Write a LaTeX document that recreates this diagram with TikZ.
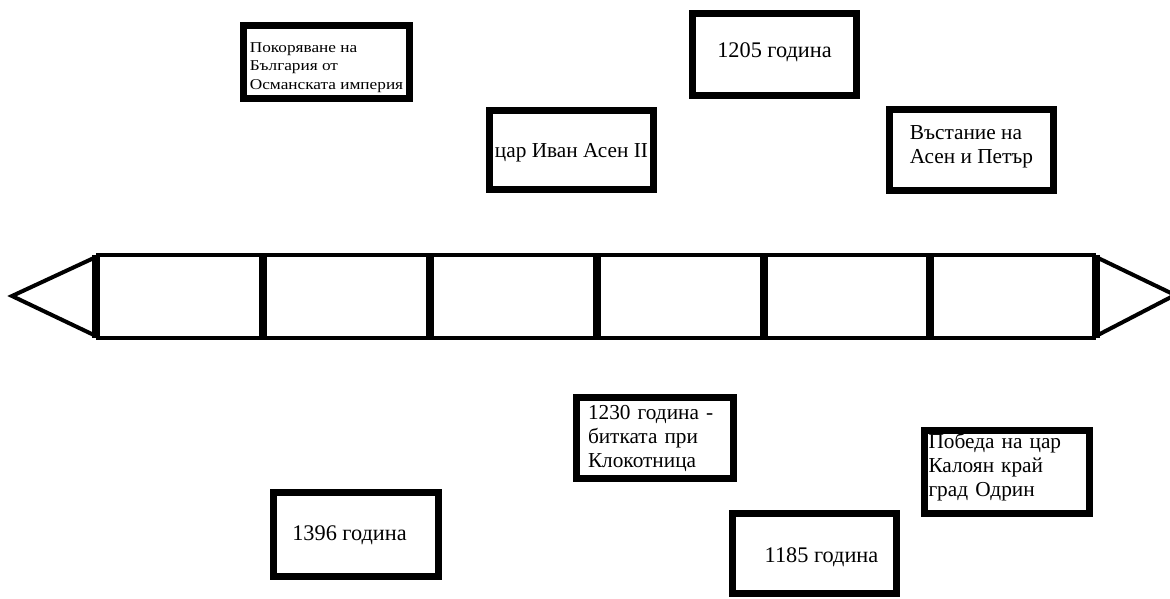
\documentclass[tikz,border=0pt]{standalone}
\usepackage{fontspec}
\setmainfont{Liberation Serif}
\newfontfamily\smallfnt[FakeStretch=1.15]{Liberation Serif}
\begin{document}
\begin{tikzpicture}[x=1pt,y=-1pt,
  frame/.style={draw, line width=7pt, inner sep=0pt},
  box/.style={frame, align=left, font=\fontsize{21.3}{24}\selectfont},
  yearbox/.style={frame, font=\fontsize{22.3}{24}\selectfont},
  linebox/.style={frame, font=\fontsize{21.3}{24}\selectfont},
  smallbox/.style={frame, align=left, font=\smallfnt\fontsize{15}{18.5}\selectfont},
  rail/.style={line width=4pt, line join=miter},
  divider/.style={line width=7.5pt}]
\useasboundingbox (0,0) rectangle (1170,598);
\fill[white] (0,0) rectangle (1170,598);
% timeline
\foreach \i/\x in {0/96,1/263,2/430,3/597,4/764,5/930,6/1096}{
  \coordinate (t\i) at (\x,255);
  \coordinate (b\i) at (\x,338);
}
\coordinate (ltip) at (12,296);
\coordinate (rtip) at (1175,295);
\draw[rail] (t0) -- (t6);
\draw[rail] (b0) -- (b6);
\foreach \i in {0,...,6}{ \draw[divider] (t\i) -- (b\i); }
\draw[rail] ([yshift=-2pt]t0) -- (ltip) -- ([yshift=2pt]b0);
\draw[rail] ([yshift=-2pt]t6) -- (rtip) -- ([yshift=2pt]b6);
% boxes
\node[smallbox, minimum width=166, minimum height=73] (a) at (326.5,62)
  {\rule{0pt}{21pt}Покоряване на\\България от\\Османската империя};
\node[yearbox, minimum width=164, minimum height=82, text height=22.5pt, text depth=17.5pt]
  (b) at (774.5,54.5) {1205 година};
\node[linebox, minimum width=164, minimum height=79, text height=27pt, text depth=13pt]
  (c) at (571.5,150) {цар Иван Асен II};
\node[box, minimum width=164, minimum height=81] (d) at (971.5,150)
  {Въстание на\\Асен и Петър\rule[-10.5pt]{0pt}{0pt}};
\node[box, minimum width=157, minimum height=81, text width=134pt, inner xsep=11.5pt]
  (e) at (655,438) {1230 година -\\битката при\\Клокотница};
\node[box, minimum width=165, minimum height=83, text width=157pt, inner xsep=4pt]
  (f) at (1007,472) {Победа на цар\\Калоян край\\град Одрин\rule[-14pt]{0pt}{0pt}};
\node[yearbox, minimum width=165, minimum height=84, text height=25.5pt, text depth=14.5pt]
  (g) at (356,534.5) {1396 година\hspace*{13pt}};
\node[yearbox, minimum width=164, minimum height=80, text height=28.5pt, text depth=11.5pt]
  (h) at (814.5,553.5) {\hspace*{14pt}1185 година};
\end{tikzpicture}
\end{document}
